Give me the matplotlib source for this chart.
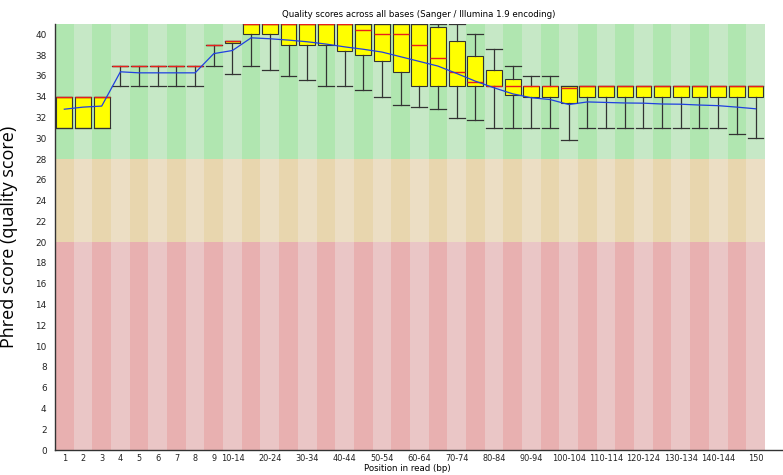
import matplotlib; matplotlib.use("Agg")
import matplotlib.pyplot as plt
import numpy as np

# Position groups along the read
positions = [str(i) for i in range(1, 10)] + \
    [f"{s}-{s + 4}" for s in range(10, 150, 5)] + ["150"]

# Per-position statistics (Phred scores)
q1 = [31, 31, 31, 37, 37, 37, 37, 37, 39, 39.2, 40, 40, 39, 39, 39, 38.4, 38, 37.4, 36.4,
      35, 35, 35, 35, 35, 34.15, 34, 34, 33.35, 34, 34, 34, 34, 34, 34, 34, 34, 34, 34]
q3 = [34, 34, 34, 37, 37, 37, 37, 37, 39, 39.4, 41, 41, 41, 41, 41, 41, 41, 41, 41,
      41, 40.7, 39.4, 37.95, 36.6, 35.75, 35, 35, 35, 35, 35, 35, 35, 35, 35, 35, 35, 35, 35]
median = [34, 34, 34, 37, 37, 37, 37, 37, 39, 39.4, 41, 41, 41, 41, 41, 41, 40.4, 40, 40,
          39, 37.75, 36.4, 35.4, 35, 35, 35, 35, 34.8, 35, 35, 35, 35, 35, 35, 35, 35, 35, 35]
p10 = [31, 31, 31, 35, 35, 35, 35, 35, 37, 36.2, 37, 36.6, 36, 35.6, 35, 35, 34.6, 34, 33.2,
       33, 32.8, 32, 31.8, 31, 31, 31, 31, 29.8, 31, 31, 31, 31, 31, 31, 31, 31, 30.4, 30]
p90 = [34, 34, 34, 37, 37, 37, 37, 37, 39, 39.4, 41, 41, 41, 41, 41, 41, 41, 41, 41,
       41, 41, 41, 40, 38.6, 37, 36, 36, 35, 35, 35, 35, 35, 35, 35, 35, 35, 35, 35]
mean = [32.8, 33.0, 33.1, 36.4, 36.3, 36.3, 36.3, 36.3, 38.15, 38.45, 39.67, 39.58, 39.45,
        39.29, 39.07, 38.8, 38.57, 38.3, 37.85, 37.4, 36.95, 36.24, 35.5, 34.86, 34.28, 33.9,
        33.73, 33.25, 33.5, 33.45, 33.4, 33.38, 33.3, 33.28, 33.2, 33.14, 33.0, 32.84]

n = len(positions)
x = np.arange(n)

fig = plt.figure(figsize=(7.83, 4.75), dpi=100)
ax = fig.add_axes([55 / 783, 25 / 475, 728 / 783, 426 / 475])

# Background quality bands with alternating stripes
bands = [(0, 20, '#eac6c6', '#e8b0b0'),
         (20, 28, '#ecdec4', '#e8d6ae'),
         (28, 41, '#c6e8c6', '#b0e6b0')]
for lo, hi, light, dark in bands:
    for i in x:
        ax.fill_between([i - 0.5, i + 0.5], lo, hi,
                        color=dark if i % 2 == 0 else light, lw=0, zorder=0)

# Boxes: 25-75 % box, 10-90 % whiskers
stats = [dict(med=median[i], q1=q1[i], q3=q3[i], whislo=p10[i], whishi=p90[i], fliers=[])
         for i in range(n)]
ax.bxp(stats, positions=x, widths=0.85, patch_artist=True, manage_ticks=False,
       boxprops=dict(facecolor='#ffff00', edgecolor='#333333', linewidth=0.8),
       medianprops=dict(color='#e8201c', linewidth=1.0),
       whiskerprops=dict(color='#333333', linewidth=0.9),
       capprops=dict(color='#333333', linewidth=0.9), capwidths=0.85, zorder=2)

# Mean line
ax.plot(x, mean, color='#2040e0', linewidth=0.9, zorder=3)

ax.set_xlim(-0.5, 38.47)
ax.set_ylim(0, 41)
ax.set_yticks(range(0, 41, 2))

labels = [p if (i < 10 or i % 2 == 1 or i == n - 1) else '' for i, p in enumerate(positions)]
ax.set_xticks(x)
ax.set_xticklabels(labels)
ax.tick_params(axis='both', length=0, colors='#222222')
ax.tick_params(axis='x', pad=3, labelsize=5.9)
ax.tick_params(axis='y', pad=6, labelsize=6.4)

for side in ['top', 'right']:
    ax.spines[side].set_visible(False)
for side in ['left', 'bottom']:
    ax.spines[side].set_color('#333333')
    ax.spines[side].set_linewidth(1.0)

ax.set_title('Quality scores across all bases (Sanger / Illumina 1.9 encoding)',
             fontsize=6.2, pad=5)
ax.set_xlabel('Position in read (bp)', fontsize=6.2)
ax.xaxis.set_label_coords(0.4835, -0.033)
ax.set_ylabel('Phred score (quality score)', fontsize=13, family='Open Sans')
ax.yaxis.set_label_coords(-0.051, 0.5)

plt.savefig("out.png", dpi=100)
